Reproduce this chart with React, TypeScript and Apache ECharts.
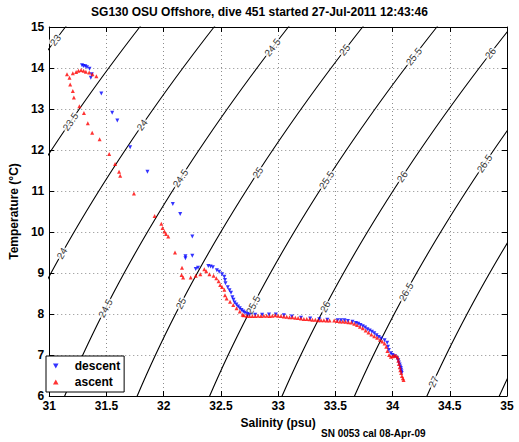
import { useEffect, useRef } from 'react';
import * as echarts from 'echarts';

const TITLE = 'SG130 OSU Offshore, dive 451 started 27-Jul-2011 12:43:46';
const FOOTNOTE = 'SN 0053 cal 08-Apr-09';
const X_NAME = 'Salinity (psu)';
const Y_NAME = 'Temperature (°C)';
const X_TICKS = [31, 31.5, 32, 32.5, 33, 33.5, 34, 34.5, 35];
const Y_TICKS = [6, 7, 8, 9, 10, 11, 12, 13, 14, 15];
const SIGMA_LEVELS = [23, 23.5, 24, 24.5, 25, 25.5, 26, 26.5, 27, 27.5];
// [sigma level, temperature where the inline label sits]
const CONTOUR_LABELS: [number, number][] = [
  [23, 14.68], [23.5, 12.69], [24, 12.61], [24, 9.48],
  [24.5, 14.5], [24.5, 11.31], [24.5, 8.14],
  [25, 14.44], [25, 11.45], [25, 8.26],
  [25.5, 14.28], [25.5, 11.27], [25.5, 8.22],
  [26, 14.36], [26, 11.35], [26, 8.18],
  [26.5, 11.67], [26.5, 8.54], [27, 6.35],
];

// descent (salinity psu, temperature °C)
const DESCENT: [number, number][] = [
  [31.286, 14.07], [31.3, 14.05], [31.315, 14.04], [31.33, 14.02], [31.352, 13.98],
  [31.372, 13.85], [31.363, 13.76], [31.455, 13.38], [31.55, 12.91], [31.595, 12.72],
  [31.707, 12.07], [31.858, 11.47], [32.08, 10.68], [32.144, 10.44], [32.25, 9.89],
  [32.25, 9.42], [32.19, 9.41], [32.19, 9.36], [32.28, 9.1], [32.3, 9.13],
  [32.39, 9.17], [32.41, 9.16], [32.43, 9.14], [32.465, 9.07], [32.485, 9.03],
  [32.51, 8.97], [32.53, 8.91], [32.536, 8.83], [32.54, 8.75], [32.56, 8.65],
  [32.575, 8.58], [32.588, 8.52], [32.6, 8.41], [32.61, 8.35], [32.62, 8.28],
  [32.635, 8.23], [32.65, 8.18], [32.665, 8.14], [32.68, 8.1], [32.695, 8.06],
  [32.71, 8.03], [32.73, 8.0], [32.75, 7.98], [32.8, 7.98], [32.86, 7.98],
  [32.92, 7.99], [32.98, 7.99], [33.05, 7.97], [33.12, 7.94], [33.2, 7.91],
  [33.28, 7.89], [33.36, 7.87], [33.43, 7.86], [33.52, 7.85], [33.55, 7.85],
  [33.58, 7.85], [33.61, 7.83], [33.65, 7.81], [33.68, 7.78], [33.7, 7.76],
  [33.72, 7.73], [33.74, 7.7], [33.76, 7.67], [33.78, 7.63], [33.8, 7.6],
  [33.82, 7.57], [33.84, 7.53], [33.86, 7.48], [33.88, 7.44], [33.9, 7.4],
  [33.93, 7.36], [33.953, 7.3], [33.96, 7.2], [33.967, 7.12], [33.985, 7.04],
  [34.0, 7.0], [34.02, 6.97], [34.04, 6.92], [34.05, 6.87], [34.055, 6.82],
  [34.062, 6.77], [34.067, 6.72], [34.072, 6.68], [34.075, 6.64], [34.078, 6.6],
  [34.08, 6.56],
];

// ascent (salinity psu, temperature °C)
const ASCENT: [number, number][] = [
  [34.096, 6.39], [34.09, 6.43], [34.082, 6.49], [34.075, 6.56], [34.068, 6.63],
  [34.062, 6.7], [34.055, 6.78], [34.05, 6.86], [34.045, 6.94], [34.03, 6.98],
  [34.015, 6.99], [34.0, 6.97], [33.985, 6.96], [33.97, 7.0], [33.955, 7.1],
  [33.945, 7.2], [33.93, 7.28], [33.91, 7.33], [33.89, 7.37], [33.865, 7.42],
  [33.84, 7.46], [33.815, 7.5], [33.79, 7.55], [33.765, 7.6], [33.74, 7.65],
  [33.715, 7.69], [33.69, 7.73], [33.665, 7.76], [33.64, 7.79], [33.615, 7.8],
  [33.59, 7.81], [33.565, 7.82], [33.54, 7.82], [33.515, 7.83], [33.49, 7.84],
  [33.45, 7.84], [33.425, 7.84], [33.4, 7.85], [33.375, 7.85], [33.35, 7.85],
  [33.325, 7.86], [33.3, 7.86], [33.275, 7.87], [33.25, 7.88], [33.225, 7.88],
  [33.2, 7.89], [33.175, 7.9], [33.15, 7.91], [33.125, 7.92], [33.1, 7.92],
  [33.075, 7.93], [33.05, 7.94], [33.025, 7.95], [33.0, 7.96], [32.975, 7.97],
  [32.95, 7.96], [32.925, 7.95], [32.9, 7.96], [32.875, 7.96], [32.85, 7.95],
  [32.825, 7.96], [32.8, 7.95], [32.775, 7.95], [32.75, 7.95], [32.725, 7.96],
  [32.7, 7.97], [32.69, 7.98], [32.665, 8.06], [32.637, 8.14], [32.608, 8.22],
  [32.58, 8.3], [32.55, 8.38], [32.536, 8.46], [32.53, 8.59], [32.51, 8.66],
  [32.494, 8.71], [32.48, 8.8], [32.46, 8.87], [32.436, 8.93], [32.4, 8.97],
  [32.372, 9.04], [32.355, 9.09], [32.32, 8.97], [32.28, 8.93], [32.236, 8.89],
  [32.17, 8.89], [32.156, 8.95], [32.16, 9.13], [32.099, 9.5], [32.04, 9.89],
  [32.02, 9.95], [32.007, 10.01], [31.99, 10.1], [31.979, 10.2], [31.921, 10.39],
  [31.74, 10.94], [31.62, 11.37], [31.61, 11.47], [31.575, 11.66], [31.524, 11.9],
  [31.44, 12.26], [31.375, 12.42], [31.337, 12.65], [31.303, 12.9], [31.263, 13.07],
  [31.215, 13.28], [31.206, 13.44], [31.183, 13.6], [31.177, 13.76], [31.155, 13.85],
  [31.206, 13.87], [31.235, 13.9], [31.255, 13.93], [31.278, 13.95], [31.3, 13.93],
  [31.32, 13.91], [31.349, 13.89], [31.378, 13.85], [31.412, 13.8],
];

const FONT = '"Liberation Sans", Arial, Helvetica, sans-serif';
const W = 519;
const H = 442;
const GRID = { left: 41, right: 12, top: 27, bottom: 46 };
const UP_TRI = 'path://M5,0L10,9L0,9Z';
const DOWN_TRI = 'path://M0,0L10,0L5,9Z';

// UNESCO 1983 (EOS-80) density anomaly at zero pressure
function sigmaT(S: number, T: number): number {
  const rw = 999.842594 + 6.793952e-2 * T - 9.09529e-3 * T * T + 1.001685e-4 * T ** 3
    - 1.120083e-6 * T ** 4 + 6.536332e-9 * T ** 5;
  const A = 8.24493e-1 - 4.0899e-3 * T + 7.6438e-5 * T * T - 8.2467e-7 * T ** 3 + 5.3875e-9 * T ** 4;
  const B = -5.72466e-3 + 1.0227e-4 * T - 1.6546e-6 * T * T;
  const C = 4.8314e-4;
  return rw + A * S + B * S ** 1.5 + C * S * S - 1000;
}

function salinityFor(sigma: number, T: number): number {
  let S = 33;
  for (let i = 0; i < 30; i++) {
    const f = sigmaT(S, T) - sigma;
    const d = (sigmaT(S + 1e-4, T) - sigmaT(S - 1e-4, T)) / 2e-4;
    S -= f / d;
  }
  return S;
}

export default function App() {
  const ref = useRef<HTMLDivElement>(null);
  useEffect(() => {
    document.body.style.margin = '0';
    if (!ref.current) return;
    const chart = echarts.init(ref.current, undefined, { renderer: 'svg' });
    const xMin = X_TICKS[0];
    const xMax = X_TICKS[X_TICKS.length - 1];
    const yMin = Y_TICKS[0];
    const yMax = Y_TICKS[Y_TICKS.length - 1];
    const pxS = (W - GRID.left - GRID.right) / (xMax - xMin);
    const pxT = (H - GRID.top - GRID.bottom) / (yMax - yMin);

    const contourSeries = SIGMA_LEVELS.map((lvl) => {
      const pts: [number, number][] = [];
      for (let T = yMin - 0.5; T <= yMax + 0.5001; T += 0.25) pts.push([salinityFor(lvl, T), T]);
      return {
        type: 'line',
        name: 'sigma ' + lvl,
        data: pts,
        showSymbol: false,
        symbol: 'none',
        silent: true,
        clip: true,
        lineStyle: { color: '#000', width: 1.1 },
        z: 2,
        animation: false,
      };
    });

    const labelData = CONTOUR_LABELS.map(([lvl, T]) => {
      const S = salinityFor(lvl, T);
      const S1 = salinityFor(lvl, T - 0.2);
      const S2 = salinityFor(lvl, T + 0.2);
      const ang = (Math.atan2(0.4 * pxT, (S2 - S1) * pxS) * 180) / Math.PI;
      return {
        value: [S, T],
        label: { formatter: String(lvl), rotate: ang },
      };
    });

    const axisCommon = {
      type: 'value',
      axisLine: { show: true, onZero: false, lineStyle: { color: '#000', width: 1 } },
      axisTick: { show: true, inside: true, length: 5, lineStyle: { color: '#000' } },
    };

    chart.setOption({
      animation: false,
      title: {
        text: TITLE,
        left: 'center',
        top: 6,
        padding: [0, 0, 0, 29],
        textStyle: { fontFamily: FONT, fontSize: 12, fontWeight: 'bold', color: '#000' },
      },
      grid: { ...GRID, containLabel: false },
      legend: {
        data: [
          { name: 'descent', icon: DOWN_TRI },
          { name: 'ascent', icon: UP_TRI },
        ],
        orient: 'vertical',
        left: 46,
        top: 356,
        padding: [3, 4, 3, 7],
        itemWidth: 28,
        itemHeight: 5,
        itemGap: 2,
        symbolKeepAspect: true,
        symbolRotate: 0,
        borderColor: '#000',
        borderWidth: 1,
        borderRadius: 0,
        backgroundColor: '#fff',
        textStyle: { fontFamily: FONT, fontSize: 12, fontWeight: 'bold', color: '#000', lineHeight: 14 },
        z: 10,
      },
      xAxis: [
        {
          ...axisCommon,
          position: 'bottom',
          min: xMin,
          max: xMax,
          interval: 0.5,
          name: X_NAME,
          nameLocation: 'middle',
          nameGap: 18,
          nameTextStyle: { fontFamily: FONT, fontSize: 12, fontWeight: 'bold', color: '#000' },
          axisLabel: { fontFamily: FONT, fontSize: 12, fontWeight: 'bold', color: '#000', margin: 4 },
          splitLine: { show: true, lineStyle: { color: '#8c8c8c', type: [1, 3], width: 1 } },
        },
        {
          ...axisCommon,
          position: 'top',
          min: xMin,
          max: xMax,
          interval: 0.5,
          axisLabel: { show: false },
          splitLine: { show: false },
        },
      ],
      yAxis: [
        {
          ...axisCommon,
          position: 'left',
          min: yMin,
          max: yMax,
          interval: 1,
          name: Y_NAME,
          nameLocation: 'middle',
          nameGap: 24,
          nameTextStyle: { fontFamily: FONT, fontSize: 12, fontWeight: 'bold', color: '#000' },
          axisLabel: { fontFamily: FONT, fontSize: 12, fontWeight: 'bold', color: '#000', margin: 5 },
          splitLine: { show: true, lineStyle: { color: '#8c8c8c', type: [1, 3], width: 1 } },
        },
        {
          ...axisCommon,
          position: 'right',
          min: yMin,
          max: yMax,
          interval: 1,
          axisLabel: { show: false },
          splitLine: { show: false },
        },
      ],
      graphic: [
        {
          type: 'text',
          left: 321,
          top: 428,
          style: { text: FOOTNOTE, fontFamily: FONT, fontSize: 10, fontWeight: 'bold', fill: '#000' },
        },
      ],
      series: [
        ...contourSeries,
        {
          type: 'scatter',
          name: 'contour labels',
          data: labelData,
          symbol: 'circle',
          symbolSize: 1,
          silent: true,
          itemStyle: { color: 'rgba(0,0,0,0)' },
          label: {
            show: true,
            position: 'inside',
            fontFamily: FONT,
            fontSize: 10,
            color: '#000',
            backgroundColor: '#fff',
            padding: [0, 1],
          },
          z: 3,
        },
        {
          type: 'scatter',
          name: 'descent',
          data: DESCENT,
          symbol: 'triangle',
          symbolRotate: 180,
          symbolSize: 4,
          itemStyle: { color: '#0000ff' },
          z: 4,
        },
        {
          type: 'scatter',
          name: 'ascent',
          data: ASCENT,
          symbol: 'triangle',
          symbolSize: 4,
          itemStyle: { color: '#ff0000' },
          z: 5,
        },
      ],
    });
    return () => chart.dispose();
  }, []);
  return <div ref={ref} style={{ width: W, height: H }} />;
}
